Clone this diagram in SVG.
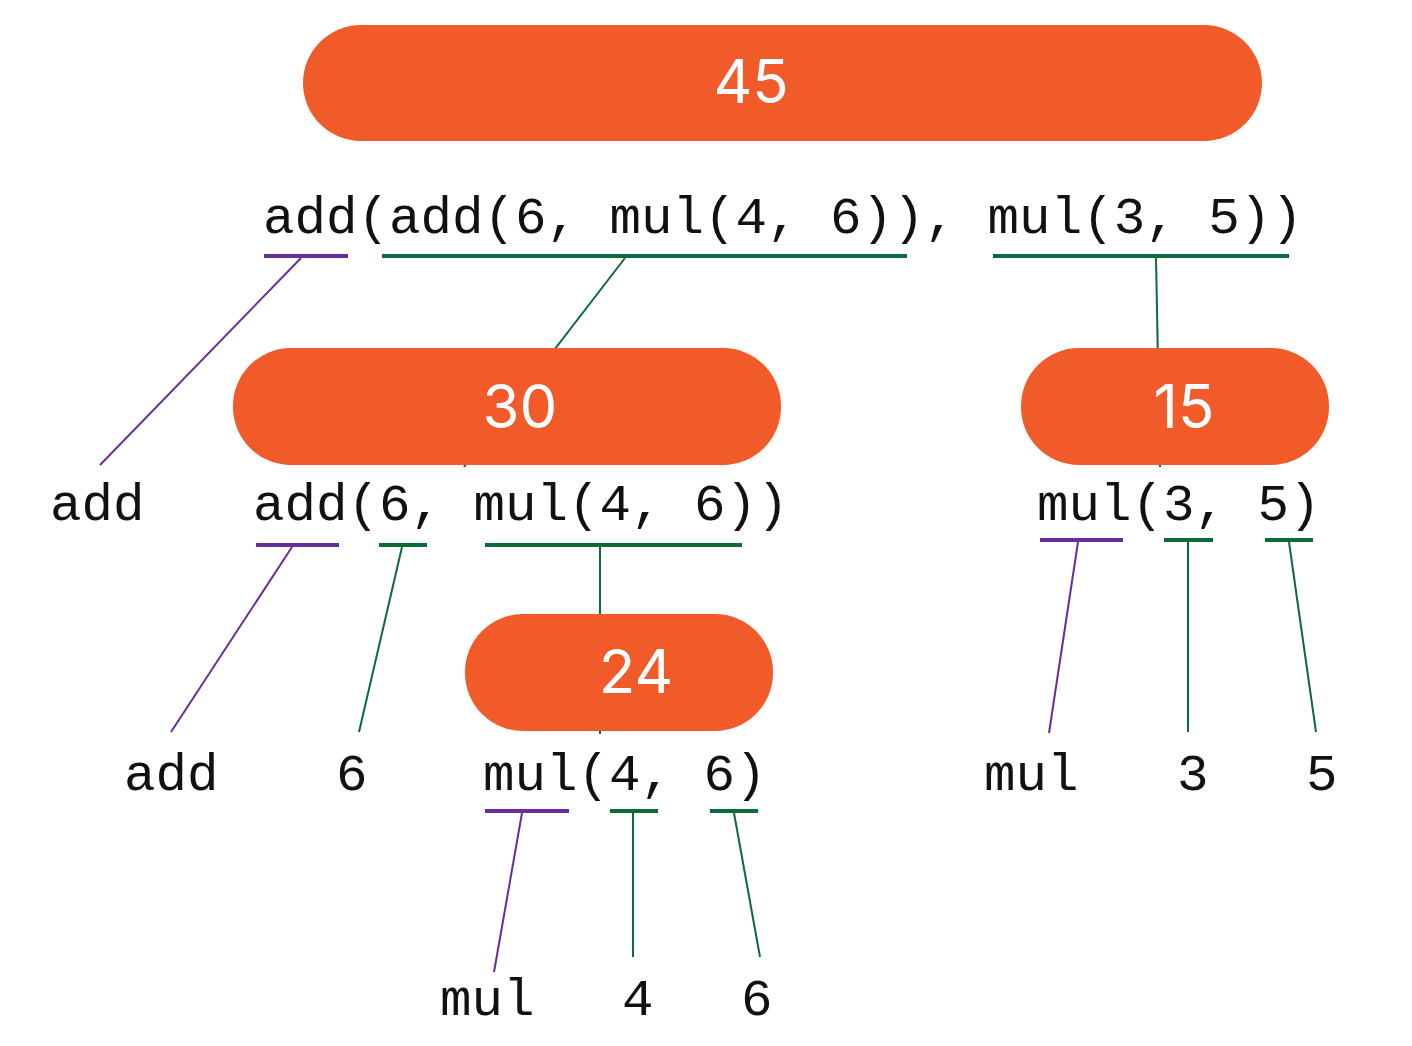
<svg xmlns="http://www.w3.org/2000/svg" width="1412" height="1046" viewBox="0 0 1412 1046">
<style>
.node{fill:#F15A29}
.num{font-family:Inter,Roboto,"Liberation Sans",sans-serif;font-size:60px;fill:#ffffff;text-anchor:middle}
.code{font-family:"Liberation Mono","DejaVu Sans Mono",monospace;font-size:52.5px;fill:#111111}
.up{stroke:#6A2C9A;stroke-width:4;fill:none}
.ug{stroke:#0B6B3A;stroke-width:4;fill:none}
.lp{stroke:#6A2C9A;stroke-width:2;fill:none}
.lg{stroke:#0B6B3A;stroke-width:2;fill:none}
</style>
<rect width="1412" height="1046" fill="#ffffff"/>
<g id="connectors">
<line class="up" x1="264" y1="256" x2="348" y2="256"/>
<line class="ug" x1="382" y1="256" x2="907" y2="256"/>
<line class="ug" x1="993" y1="256" x2="1289" y2="256"/>
<line class="lp" x1="301" y1="258" x2="100" y2="465"/>
<line class="lg" x1="625" y1="258" x2="464" y2="467"/>
<line class="lg" x1="1156" y1="258" x2="1160" y2="467"/>
<line class="up" x1="256" y1="545" x2="339" y2="545"/>
<line class="ug" x1="379" y1="545" x2="427" y2="545"/>
<line class="ug" x1="485" y1="545" x2="742" y2="545"/>
<line class="lp" x1="292" y1="547" x2="171" y2="732"/>
<line class="lg" x1="402" y1="547" x2="359" y2="732"/>
<line class="lg" x1="600" y1="547" x2="600" y2="734"/>
<line class="up" x1="1040" y1="540" x2="1123" y2="540"/>
<line class="ug" x1="1164" y1="540" x2="1213" y2="540"/>
<line class="ug" x1="1265" y1="540" x2="1313" y2="540"/>
<line class="lp" x1="1078" y1="542" x2="1049" y2="733"/>
<line class="lg" x1="1188" y1="542" x2="1188" y2="732"/>
<line class="lg" x1="1289" y1="542" x2="1316" y2="732"/>
<line class="up" x1="485" y1="811" x2="569" y2="811"/>
<line class="ug" x1="610" y1="811" x2="658" y2="811"/>
<line class="ug" x1="710" y1="811" x2="758" y2="811"/>
<line class="lp" x1="522" y1="813" x2="494" y2="972"/>
<line class="lg" x1="633" y1="813" x2="633" y2="957"/>
<line class="lg" x1="734" y1="813" x2="760" y2="957"/>
</g>
<g id="n45"><rect class="node" x="303" y="25" width="959" height="116" rx="58"/><text class="num" x="751" y="103">45</text></g>
<g id="n30"><rect class="node" x="233" y="348" width="548" height="117" rx="58"/><text class="num" x="520" y="428">30</text></g>
<g id="n15"><rect class="node" x="1021" y="348" width="308" height="117" rx="58"/><text class="num" x="1184" y="428">15</text></g>
<g id="n24"><rect class="node" x="465" y="614" width="308" height="117" rx="58"/><text class="num" x="636" y="693">24</text></g>
<g id="e0"><text class="code" x="263" y="233">add(add(6, mul(4, 6)), mul(3, 5))</text></g>
<g id="e1"><text class="code" x="50" y="520">add</text></g>
<g id="e2"><text class="code" x="253" y="520">add(6, mul(4, 6))</text></g>
<g id="e3"><text class="code" x="1037" y="520">mul(3, 5)</text></g>
<g id="e4"><text class="code" x="124" y="790">add</text></g>
<g id="e5"><text class="code" x="336" y="790">6</text></g>
<g id="e6"><text class="code" x="483" y="790">mul(4, 6)</text></g>
<g id="e7"><text class="code" x="984" y="790">mul</text></g>
<g id="e8"><text class="code" x="1177" y="790">3</text></g>
<g id="e9"><text class="code" x="1306" y="790">5</text></g>
<g id="e10"><text class="code" x="440" y="1015">mul</text></g>
<g id="e11"><text class="code" x="622" y="1015">4</text></g>
<g id="e12"><text class="code" x="741" y="1015">6</text></g>
</svg>
